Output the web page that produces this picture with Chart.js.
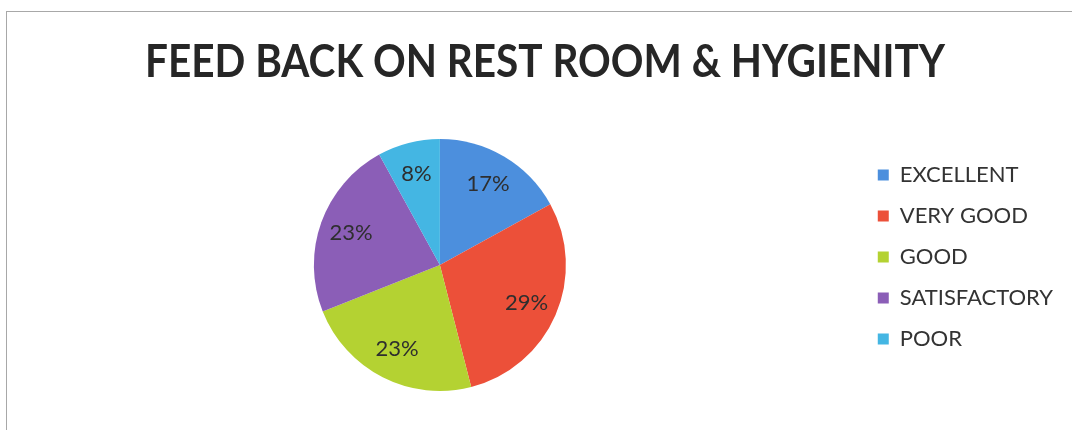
<!DOCTYPE html>
<html lang="en">
<head>
    <meta charset="UTF-8">
    <title>Feed back on rest room</title>
    <style>
      html, body { margin: 0; padding: 0; background: #fff; overflow: hidden; }
      #frame { position: absolute; left: 6px; top: 11px; width: 1100px; height: 460px; border: 1px solid #a8a8a8; }
      #wrap { position: absolute; left: 0; top: 0; width: 1072px; height: 430px; }
    </style>
</head>
<body>
    <div id="frame"></div>
    <div id="wrap">
        <canvas id="myChart" width="1072" height="430"></canvas>
    </div>

    <script src="https://cdn.jsdelivr.net/npm/chart.js"></script>

    <script>
      const categories = ['EXCELLENT', 'VERY GOOD', 'GOOD', 'SATISFACTORY', 'POOR'];
      const values = [17, 29, 23, 23, 8];
      const colors = ['#4c8fdd', '#ec5039', '#b4d232', '#8b5eb7', '#44b6e3'];
      const chartTitle = 'FEED BACK ON REST ROOM & HYGIENITY';

      // big bold title, squeezed a bit to look like the narrow office font
      const titleDraw = {
        id: 'titleDraw',
        afterDraw(chart) {
          const c = chart.ctx;
          c.save();
          c.font = 'bold 46px Lato, "Open Sans", sans-serif';
          c.fillStyle = '#262626';
          c.textAlign = 'center';
          c.textBaseline = 'middle';
          const w = c.measureText(chartTitle).width;
          const sx = Math.min(1, 800 / w);
          c.translate(545, 62);
          c.scale(sx, 1);
          c.fillText(chartTitle, 0, 0);
          c.restore();
        }
      };

      // percentage labels inside each slice
      const sliceLabels = {
        id: 'sliceLabels',
        afterDatasetsDraw(chart) {
          const c = chart.ctx;
          const meta = chart.getDatasetMeta(0);
          const total = values.reduce((a, b) => a + b, 0);
          c.save();
          c.font = '22px Lato, "Open Sans", sans-serif';
          c.fillStyle = '#2e2e2e';
          c.textAlign = 'center';
          c.textBaseline = 'middle';
          meta.data.forEach((arc, i) => {
            const p = arc.getProps(['x', 'y', 'startAngle', 'endAngle', 'outerRadius'], true);
            const mid = (p.startAngle + p.endAngle) / 2;
            const r = p.outerRadius * 0.75;
            const txt = Math.round(values[i] / total * 100) + '%';
            c.fillText(txt, p.x + Math.cos(mid) * r, p.y + Math.sin(mid) * r);
          });
          c.restore();
        }
      };

      const ctx = document.getElementById('myChart');

      new Chart(ctx, {
        type: 'pie',
        data: {
          labels: categories,
          datasets: [{
            data: values,
            backgroundColor: colors,
            borderWidth: 0,
            hoverOffset: 0
          }]
        },
        options: {
          responsive: false,
          animation: false,
          layout: { padding: { left: 21, right: 9, top: 139, bottom: 39 } },
          plugins: {
            tooltip: { enabled: false },
            title: { display: false },
            legend: {
              position: 'right',
              align: 'start',
              fullSize: false,
              title: { display: true, text: '', font: { size: 1, lineHeight: 1 }, padding: { top: 5, bottom: 0 } },
              labels: {
                boxWidth: 11,
                boxHeight: 11,
                padding: 19,
                color: '#333',
                font: { family: 'Lato, "Open Sans", sans-serif', size: 22 }
              }
            }
          }
        },
        plugins: [sliceLabels, titleDraw]
      });
    </script>
</body>
</html>
